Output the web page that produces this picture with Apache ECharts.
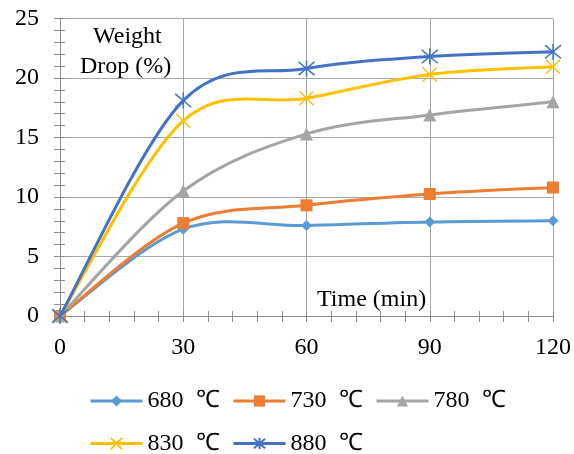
<!DOCTYPE html>
<html>
<head>
<meta charset="utf-8">
<script src="https://cdn.jsdelivr.net/npm/echarts@6/dist/echarts.min.js"></script>
<style>html,body{margin:0;padding:0;background:#fff}#c{width:574px;height:454px}</style>
</head>
<body>
<div id="c"></div>
<script>
var times = [0, 30, 60, 90, 120];
var seriesNames = ['680  ℃', '730  ℃', '780  ℃', '830  ℃', '880  ℃'];
var v680 = [0, 7.3, 7.6, 7.9, 8.0];
var v730 = [0, 7.8, 9.3, 10.25, 10.8];
var v780 = [0, 10.5, 15.3, 16.9, 18.0];
var v830 = [0, 16.4, 18.3, 20.3, 20.95];
var v880 = [0, 18.1, 20.8, 21.8, 22.2];
var xTicks = [0, 30, 60, 90, 120];
var yTicks = [0, 5, 10, 15, 20, 25];

var colors = ['#5B9BD5', '#ED7D31', '#A5A5A5', '#FFC000', '#4472C4'];
var values = [v680, v730, v780, v830, v880];
var symbols = [
  'diamond',
  'rect',
  'triangle',
  'path://M0,0L10,10M10,0L0,10',
  'path://M0,0L10,10M10,0L0,10M5,-1L5,11'
];
var sizes = [11, 12, 13, 14, 16];

var font = '"Liberation Serif", "Times New Roman", serif';
var axisGray = '#8c8c8c';

function pairs(arr) { return times.map(function (t, i) { return [t, arr[i]]; }); }

// Excel-like smoothed curve: cubic Bezier with Catmull-Rom tangents (1/6)
function makeCurveRender(arr, color) {
  return function (params, api) {
    var k = params.dataIndex;
    var n = times.length;
    if (k >= n - 1) return null;
    function P(j) {
      j = Math.max(0, Math.min(n - 1, j));
      return api.coord([times[j], arr[j]]);
    }
    var p0 = P(k - 1), p1 = P(k), p2 = P(k + 1), p3 = P(k + 2);
    return {
      type: 'bezierCurve',
      shape: {
        x1: p1[0], y1: p1[1],
        cpx1: p1[0] + (p2[0] - p0[0]) / 6, cpy1: p1[1] + (p2[1] - p0[1]) / 6,
        cpx2: p2[0] - (p3[0] - p1[0]) / 6, cpy2: p2[1] - (p3[1] - p1[1]) / 6,
        x2: p2[0], y2: p2[1]
      },
      style: { stroke: color, lineWidth: 3, fill: null, lineCap: 'round' },
      silent: true
    };
  };
}

var series = [];
values.forEach(function (arr, i) {
  var isPath = i >= 3;
  series.push({
    name: seriesNames[i],
    type: 'line',
    data: pairs(arr),
    symbol: symbols[i],
    symbolSize: sizes[i],
    showAllSymbol: true,
    lineStyle: { color: colors[i], width: 3, opacity: 0 },
    itemStyle: isPath
      ? { color: 'transparent', borderColor: colors[i], borderWidth: 1.5 }
      : { color: colors[i], borderWidth: 0 },
    z: 3 + 2 * i
  });
});
values.forEach(function (arr, i) {
  series.push({
    name: seriesNames[i],
    type: 'custom',
    coordinateSystem: 'cartesian2d',
    data: pairs(arr),
    renderItem: makeCurveRender(arr, colors[i]),
    silent: true,
    z: 2 + 2 * i
  });
});

var chart = echarts.init(document.getElementById('c'), null, { renderer: 'canvas' });
chart.setOption({
  animation: false,
  backgroundColor: '#ffffff',
  textStyle: { fontFamily: font },
  grid: { left: 60, right: 21, top: 18.5, bottom: 138 },
  xAxis: [{
    type: 'value', min: 0, max: 120, interval: 30, position: 'bottom',
    axisLine: { show: true, onZero: false, lineStyle: { color: axisGray, width: 1 } },
    axisTick: { show: true, length: 6, lineStyle: { color: axisGray } },
    minorTick: { show: true, splitNumber: 5, length: 6, lineStyle: { color: axisGray } },
    splitLine: { show: true, lineStyle: { color: '#a6a6a6', width: 1 } },
    axisLabel: {
      color: '#000', fontSize: 24, fontFamily: font, margin: 20,
      formatter: function (v) { return xTicks.indexOf(v) >= 0 ? String(v) : ''; }
    }
  }, {
    type: 'value', min: 0, max: 120, interval: 30, position: 'bottom',
    axisLine: { show: false },
    axisTick: { show: true, inside: true, length: 5, lineStyle: { color: axisGray } },
    minorTick: { show: true, splitNumber: 5, length: 5, lineStyle: { color: axisGray } },
    splitLine: { show: false },
    axisLabel: { show: false }
  }],
  yAxis: [{
    type: 'value', min: 0, max: 25, interval: 5, position: 'left',
    axisLine: { show: true, lineStyle: { color: axisGray, width: 1 } },
    axisTick: { show: true, length: 6, lineStyle: { color: axisGray } },
    minorTick: { show: true, splitNumber: 5, length: 6, lineStyle: { color: axisGray } },
    splitLine: { show: true, lineStyle: { color: '#a6a6a6', width: 1 } },
    axisLabel: {
      color: '#000', fontSize: 24, fontFamily: font, margin: 21,
      formatter: function (v) { return yTicks.indexOf(v) >= 0 ? String(v) : ''; }
    }
  }, {
    type: 'value', min: 0, max: 25, interval: 5, position: 'left',
    axisLine: { show: false },
    axisTick: { show: true, inside: true, length: 5, lineStyle: { color: axisGray } },
    minorTick: { show: true, splitNumber: 5, length: 5, lineStyle: { color: axisGray } },
    splitLine: { show: false },
    axisLabel: { show: false }
  }],
  legend: {
    left: 84, top: 381, width: 450,
    itemWidth: 52, itemHeight: 14, itemGap: 12.5,
    lineStyle: { opacity: 1, width: 3 },
    textStyle: { fontSize: 24, color: '#000', fontFamily: font, lineHeight: 30 },
    data: seriesNames
  },
  graphic: [
    { type: 'text', left: 93, top: 25, style: { text: 'Weight', font: '24px ' + font, fill: '#000' } },
    { type: 'text', left: 80, top: 55, style: { text: 'Drop (%)', font: '24px ' + font, fill: '#000' } },
    { type: 'text', left: 317, top: 288, style: { text: 'Time (min)', font: '24px ' + font, fill: '#000' } }
  ],
  series: series
});
</script>
</body>
</html>
